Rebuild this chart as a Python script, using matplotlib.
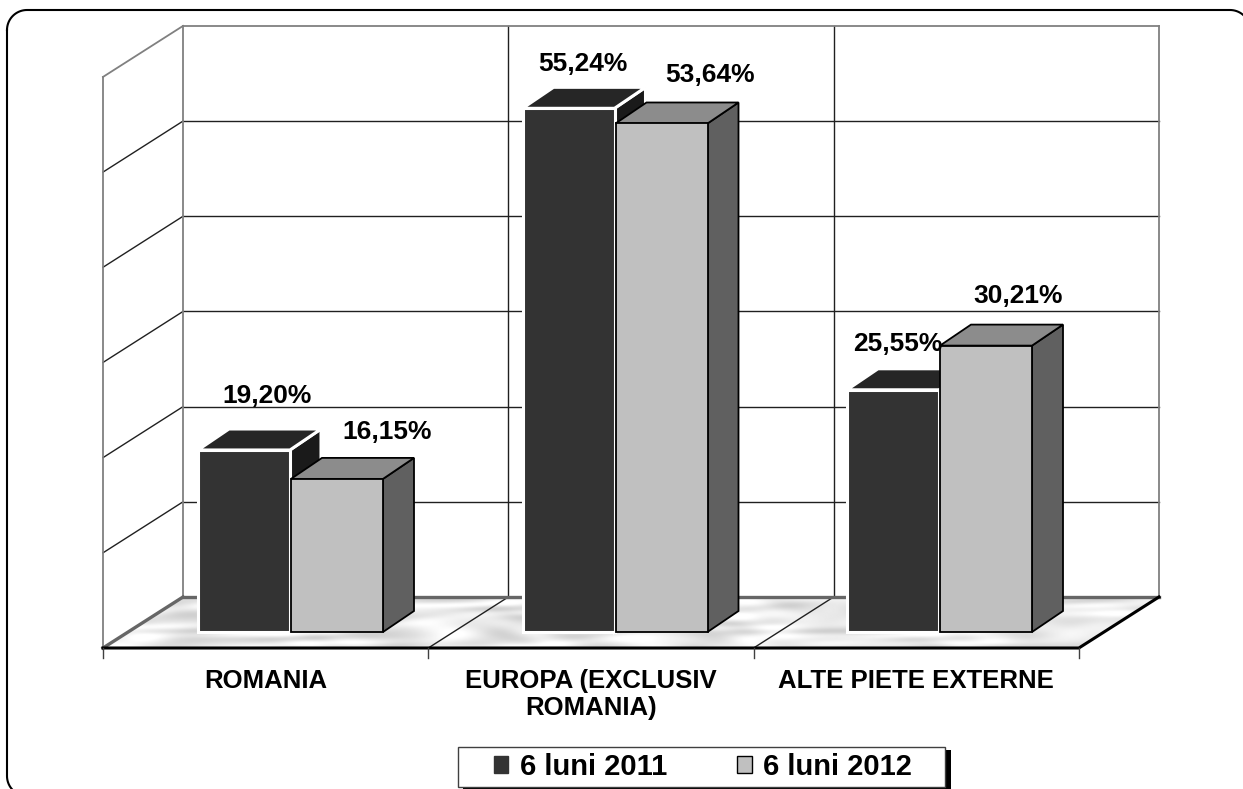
#!/usr/bin/env python3
"""Oblique 3D style grouped bars: structura vanzarilor pe piete, 6 luni 2011 vs 2012."""

import matplotlib
matplotlib.use('Agg')
import matplotlib.pyplot as plt
from matplotlib.lines import Line2D
from matplotlib.patches import Patch, Polygon, Rectangle
from matplotlib.transforms import IdentityTransform
import numpy as np

plt.rcParams['font.family'] = ['Liberation Sans', 'DejaVu Sans']
plt.rcParams['font.weight'] = 'bold'

# Data
categories = ['ROMANIA', 'EUROPA (EXCLUSIV\nROMANIA)', 'ALTE PIETE EXTERNE']
series_names = ['6 luni 2011', '6 luni 2012']
values_2011 = [19.20, 55.24, 25.55]
values_2012 = [16.15, 53.64, 30.21]
grid_levels = [0, 1, 2, 3, 4, 5, 6]

# Hand placed labels, offset from the top of each bar in pixels
label_offsets_2011 = [(23, 54), (14, 44), (5, 46)]
label_offsets_2012 = [(50, 47), (49, 48), (32, 50)]

W, H = 1243, 789
PX_CAT = 325.3    # pixels per category
PX_PCT = 9.48     # pixels per percent
X0, Y0 = 103, 632   # pixel position of category 0 / value 0
BAR_OFF = 95 / PX_CAT
BAR_STEP = 324.5 / PX_CAT
BAR_W = 92 / PX_CAT
DX, DY = 31 / PX_CAT, 21 / PX_PCT       # bar depth
WALL_DX, WALL_DY = 80 / PX_CAT, 51 / PX_PCT   # floor depth
FLOOR = -16 / PX_PCT    # front edge of the floor
GRID_STEP = 10.04


def box(ax, x, v, front, top, side, edge, lw, z):
    ax.add_patch(Polygon([(x + BAR_W, 0), (x + BAR_W + DX, DY), (x + BAR_W + DX, v + DY), (x + BAR_W, v)],
                         fc=side, ec=edge, lw=lw, zorder=z, joinstyle='miter'))
    ax.add_patch(Polygon([(x, v), (x + DX, v + DY), (x + BAR_W + DX, v + DY), (x + BAR_W, v)],
                         fc=top, ec=edge, lw=lw, zorder=z, joinstyle='miter'))
    ax.add_patch(Polygon([(x, 0), (x + BAR_W, 0), (x + BAR_W, v), (x, v)],
                         fc=front, ec=edge, lw=lw, zorder=z, joinstyle='miter'))


fig = plt.figure(figsize=(W / 100, H / 100), dpi=100)
ax = fig.add_axes([0, 0, 1, 1])
ax.axis('off')

n = len(categories)
back = FLOOR + WALL_DY
top_wall = back + GRID_STEP * grid_levels[-1]

# rounded frame, runs off the right and bottom of the image
r = 20
left, right, top, bottom = 7, 1250, 10, 796
t = np.linspace(0, np.pi / 2, 20)
frame_x = np.concatenate([left + r - r * np.cos(t), right - r + r * np.sin(t),
                          right - r + r * np.cos(t), left + r - r * np.sin(t), [left]])
frame_y = np.concatenate([top + r - r * np.sin(t), top + r - r * np.cos(t),
                          bottom - r + r * np.sin(t), bottom - r + r * np.cos(t), [top + r]])
fig.add_artist(Line2D(frame_x, H - frame_y, color='black', lw=1.5, transform=IdentityTransform()))

# marble floor (texture only)
gx, gy = np.meshgrid(np.linspace(0, 1, 900), np.linspace(0, 1, 100))
marble = (np.sin(17 * gx + 9 * gy + 2.5 * np.sin(23 * gx - 6 * gy))
          + 0.8 * np.sin(43 * gx - 14 * gy + 3 * np.sin(11 * gx + 7 * gy))
          + 0.4 * np.sin(71 * gx + 15 * gy + 2 * np.sin(31 * gx)))
marble = np.clip(0.92 + 0.05 * marble, 0, 1)
floor_pts = [(0, FLOOR), (WALL_DX, back), (n + WALL_DX, back), (n, FLOOR)]
im = ax.imshow(marble, extent=[0, n + WALL_DX, FLOOR, back], origin='lower', aspect='auto',
               cmap='gray', vmin=0, vmax=1, zorder=1, interpolation='bilinear')
clip = Polygon(floor_pts, fc='none', ec='none', transform=ax.transData)
ax.add_patch(clip)
im.set_clip_path(clip)

# walls
wall_gray = '#808080'
for lev in grid_levels[1:-1]:
    y = back + GRID_STEP * lev
    ax.plot([WALL_DX, n + WALL_DX], [y, y], color='#202020', lw=1, zorder=2)
    ax.plot([0, WALL_DX], [y - WALL_DY, y], color='#202020', lw=1, zorder=2)
for i in range(1, n):
    ax.plot([i + WALL_DX] * 2, [back, top_wall], color='#202020', lw=1, zorder=2)
    ax.plot([i, i + WALL_DX], [FLOOR, back], color='#202020', lw=1, zorder=2)
ax.plot([WALL_DX, n + WALL_DX], [top_wall, top_wall], color=wall_gray, lw=1.3, zorder=2)
ax.plot([WALL_DX, WALL_DX], [back, top_wall], color=wall_gray, lw=1.3, zorder=2)
ax.plot([n + WALL_DX, n + WALL_DX], [back, top_wall], color=wall_gray, lw=1.3, zorder=2)
ax.plot([0, 0], [FLOOR, top_wall - WALL_DY], color=wall_gray, lw=1.3, zorder=2)
ax.plot([0, WALL_DX], [top_wall - WALL_DY, top_wall], color=wall_gray, lw=1.3, zorder=2)
ax.plot([WALL_DX, n + WALL_DX], [back, back], color='#666666', lw=2.4, zorder=2)
ax.plot([0, WALL_DX], [FLOOR, back], color='#666666', lw=2.4, zorder=2)

# front of floor and ticks
ax.plot([0, n, n + WALL_DX], [FLOOR, FLOOR, back], color='black', lw=2.2, zorder=3,
        solid_joinstyle='miter')
for i in range(n + 1):
    ax.plot([i, i], [FLOOR, FLOOR - 10 / PX_PCT], color='#404040', lw=1, zorder=3)

# bars and labels
for i in range(n):
    x1 = i * BAR_STEP + BAR_OFF
    x2 = x1 + BAR_W + 1 / PX_CAT
    box(ax, x1, values_2011[i], '#333333', '#262626', '#1a1a1a', 'white', 2.2, 4)
    box(ax, x2, values_2012[i], '#c0c0c0', '#8c8c8c', '#606060', 'black', 1.3, 5)
    ax.annotate(f'{values_2011[i]:.2f}%'.replace('.', ','), (x1 + BAR_W / 2, values_2011[i]),
                xytext=label_offsets_2011[i], textcoords='offset pixels',
                ha='center', va='center', fontsize=19, color='black', zorder=6)
    ax.annotate(f'{values_2012[i]:.2f}%'.replace('.', ','), (x2 + BAR_W / 2, values_2012[i]),
                xytext=label_offsets_2012[i], textcoords='offset pixels',
                ha='center', va='center', fontsize=19, color='black', zorder=6)
    ax.text(i + 0.5, FLOOR - 21 / PX_PCT, categories[i], ha='center', va='top',
            fontsize=18.5, linespacing=1.15, color='black', zorder=6)

ax.set_xlim(-X0 / PX_CAT, (W - X0) / PX_CAT)
ax.set_ylim((Y0 - H) / PX_PCT, Y0 / PX_PCT)

# legend box with hard shadow, entries from the legend itself
fig.add_artist(Rectangle((463, H - 790), 488, 40, fc='black', ec='none', transform=IdentityTransform(), zorder=7))
fig.add_artist(Rectangle((458, H - 787), 487, 40, fc='white', ec='#404040', lw=1, transform=IdentityTransform(), zorder=7))
handles = [Patch(fc='#333333', ec='#333333', lw=1), Patch(fc='#c0c0c0', ec='black', lw=1)]
leg = ax.legend(handles, series_names, ncol=2, loc='center', bbox_to_anchor=(703 / W, 1 - 767 / H),
                fontsize=21, frameon=False,
                handlelength=0.5, handleheight=0.5, handletextpad=0.4, columnspacing=2.4,
                borderpad=0, borderaxespad=0)
leg.set_zorder(8)
fig.add_artist(leg)

plt.savefig('out.png', dpi=100)
plt.close()
